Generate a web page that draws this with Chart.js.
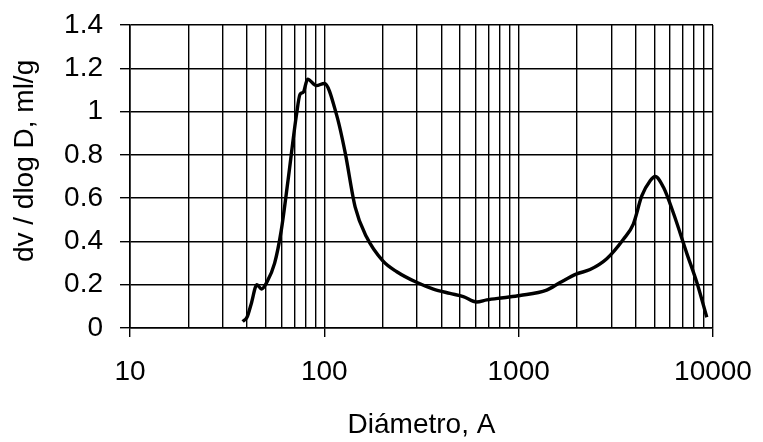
<!DOCTYPE html>
<html>
<head>
<meta charset="utf-8">
<script src="https://cdn.jsdelivr.net/npm/chart.js@4/dist/chart.umd.min.js"></script>
<style>
  body { margin: 0; background: #fff; }
  canvas { display: block; }
</style>
</head>
<body>
<canvas id="myChart" width="763" height="442"></canvas>
<script>
// Pore size distribution
const diameters = [38, 40, 42, 45, 47.5, 50.5, 55.5, 60, 65, 72, 75, 78, 82, 91, 100,
  116, 128, 144, 165, 200, 236, 300, 364, 443, 519, 608, 685, 834, 1016,
  1393, 1633, 1990, 2330, 2840, 3460, 3890, 4300, 4750, 5040, 5560, 6260, 7330, 8260, 9290];
const dvdlogD = [0.03, 0.05, 0.11, 0.20, 0.18, 0.21, 0.30, 0.45, 0.68, 0.99, 1.08, 1.09, 1.15, 1.12, 1.13,
  0.98, 0.81, 0.56, 0.42, 0.31, 0.26, 0.21, 0.18, 0.16, 0.145, 0.12, 0.13, 0.14, 0.15,
  0.175, 0.21, 0.25, 0.27, 0.32, 0.41, 0.48, 0.61, 0.68, 0.70, 0.65, 0.53, 0.345, 0.21, 0.05];
const xTickLabels = [10, 100, 1000, 10000];
const yTicks = [0, 0.2, 0.4, 0.6, 0.8, 1, 1.2, 1.4];

// log grid: 1..9 x each decade
const xGrid = [];
for (let i = 0; i < xTickLabels.length - 1; i++) {
  for (let m = 1; m < 10; m++) xGrid.push(xTickLabels[i] * m);
}
xGrid.push(xTickLabels[xTickLabels.length - 1]);

const isDecade = v => xTickLabels.includes(v);
const font = { family: '"Liberation Sans", Arial, sans-serif', size: 28 };

const whiteBg = {
  id: 'whiteBg',
  beforeDraw(chart) {
    const c = chart.ctx;
    c.save();
    c.fillStyle = '#fff';
    c.fillRect(0, 0, chart.width, chart.height);
    c.restore();
  }
};

const config = {
  type: 'line',
  data: {
    datasets: [{
      data: diameters.map((d, i) => ({ x: d, y: dvdlogD[i] })),
      borderColor: '#000',
      borderWidth: 3.4,
      pointRadius: 0,
      cubicInterpolationMode: 'monotone',
      fill: false
    }]
  },
  options: {
    responsive: false,
    animation: false,
    layout: { padding: { top: 25, right: 50, left: 0, bottom: 0 } },
    plugins: { legend: { display: false }, tooltip: { enabled: false } },
    scales: {
      x: {
        type: 'logarithmic',
        min: 10,
        max: 10000,
        afterBuildTicks: s => { s.ticks = xGrid.map(v => ({ value: v })); },
        afterFit: s => { s.height = 114; s.paddingLeft = 0; s.paddingRight = 0; },
        ticks: {
          autoSkip: false,
          maxRotation: 0,
          padding: 18,
          color: '#000',
          font: font,
          callback: v => isDecade(v) ? String(v) : ''
        },
        grid: {
          color: '#000',
          lineWidth: 1.4,
          tickLength: 9,
          tickColor: ctx => (ctx.tick && isDecade(ctx.tick.value)) ? '#000' : 'rgba(0,0,0,0)'
        },
        border: { color: '#000', width: 1.6 },
        title: { display: true, text: 'Diámetro, A', color: '#000', font: font, padding: 0 }
      },
      y: {
        min: 0,
        max: 1.4,
        afterBuildTicks: s => { s.ticks = yTicks.map(v => ({ value: v })); },
        afterFit: s => { s.width = 130; s.paddingTop = 0; s.paddingBottom = 0; },
        ticks: {
          padding: 17,
          color: '#000',
          font: font,
          callback: v => String(+v.toFixed(1))
        },
        grid: { color: '#000', lineWidth: 1.4, tickLength: 10 },
        border: { color: '#000', width: 1.6 },
        // leading spaces nudge the centred title up, as in the original
        title: { display: true, text: '    dv / dlog D, ml/g', color: '#000', font: font, padding: { top: 8 } }
      }
    }
  },
  plugins: [whiteBg]
};

new Chart(document.getElementById('myChart'), config);
</script>
</body>
</html>
